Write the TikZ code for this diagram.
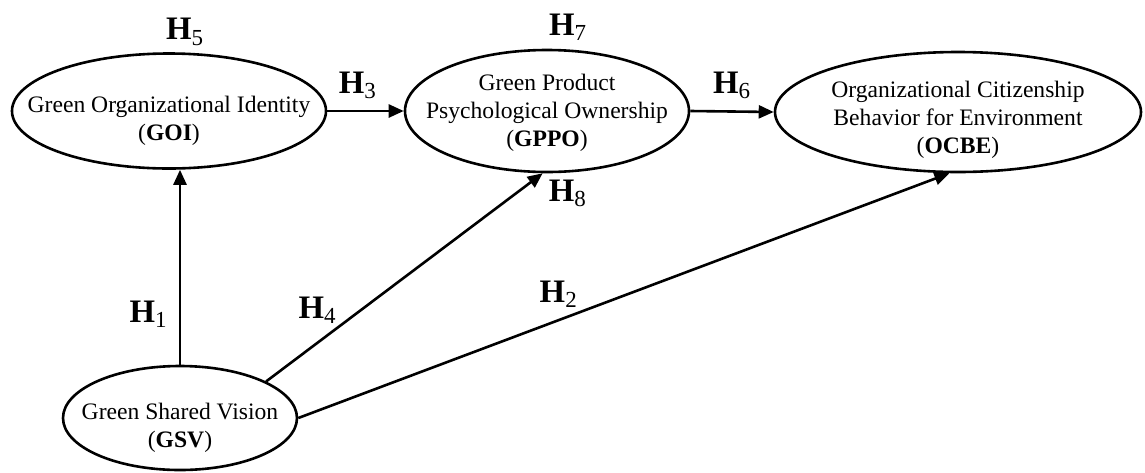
\documentclass[tikz,border=0pt]{standalone}
\usepackage{fontspec}
\setmainfont{Liberation Serif}
\usetikzlibrary{shapes.geometric, arrows.meta}

\begin{document}
\begin{tikzpicture}[x=0.5pt, y=-0.5pt, line width=1.3pt, construct/.style={ellipse, draw, inner sep=0pt}, name text/.style={align=center, font=\fontsize{11.8}{14}\selectfont}, hyp/.style={font=\fontsize{16.4}{18}\selectfont\bfseries, inner sep=5.5pt}, link/.style={-{Triangle[length=7.5pt, width=6.5pt]}}]

\useasboundingbox (0,0) rectangle (1145,472);

\node[construct, minimum width=157pt, minimum height=57.5pt] (goi) at (169,111) [label={[name text, yshift=-4.75pt]center:Green Organizational Identity\\(\textbf{GOI})}] [label={[hyp, xshift=8pt, yshift=-2.75pt]above:H\textsubscript{\mdseries 5}}] {};
\node[construct, minimum width=142pt, minimum height=61pt] (gppo) at (547,111) [label={[name text, yshift=-1pt]center:Green Product\\Psychological Ownership\\(\textbf{GPPO})}] [label={[hyp, xshift=10.5pt, yshift=-2pt]above:H\textsubscript{\mdseries 7}}] {};
\node[construct, minimum width=183pt, minimum height=60pt] (ocbe) at (958,112) [label={[name text, yshift=-4pt]center:Organizational Citizenship\\Behavior for Environment\\(\textbf{OCBE})}] {};
\node[construct, minimum width=117pt, minimum height=52pt] (gsv) at (180,418) [label={[name text, yshift=-5pt]center:Green Shared Vision\\(\textbf{GSV})}] {};

\draw[link] (gsv.north) -- node[hyp, pos=0.26, left] (h1) {H\textsubscript{\mdseries 1}} (gsv.north |- goi.south);
\draw[link] (gsv.23) -- node[hyp, pos=0.343, left=6pt] (h4) {H\textsubscript{\mdseries 4}} node[hyp, pos=1, below right=-3pt] (h8) {H\textsubscript{\mdseries 8}} (gppo.266);
\draw[link] (gsv.east) -- node[hyp, pos=0.4, above] (h2) {H\textsubscript{\mdseries 2}} (ocbe.262);
\draw[link] (goi.east) -- node[hyp, pos=0.4, above] (h3) {H\textsubscript{\mdseries 3}} (gppo.west);
\draw[link] (gppo.east) -- node[hyp, above] (h6) {H\textsubscript{\mdseries 6}} (ocbe.west);
\end{tikzpicture}
\end{document}
